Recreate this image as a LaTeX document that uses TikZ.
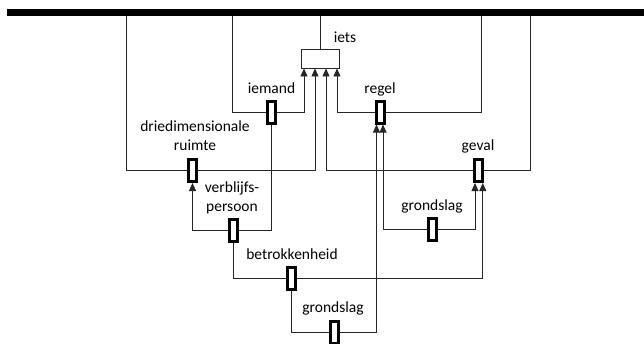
\documentclass[tikz,border=0pt]{standalone}
\usepackage{fontspec}
\setmainfont{Carlito}
\usepackage{tikz}
\usetikzlibrary{arrows.meta}
\begin{document}
\begin{tikzpicture}[x=1pt,y=-1pt,>={Triangle[length=8pt,width=7pt]},
      conn/.style={line width=0.9pt,black!85},
      rol/.style={draw,line width=3pt,fill=white,inner sep=0pt,minimum width=8pt,minimum height=22pt},
      lbl/.style={inner sep=0pt,anchor=base,align=center,font=\fontsize{15.5}{18.5}\selectfont}]
      \useasboundingbox (0,0) rectangle (644,343);
      % objecttype en rollen
      \node[draw,line width=0.9pt,black!85,fill=white,minimum width=38pt,minimum height=19pt,inner sep=0pt] (iets) at (320,58.5) {};
      \node[rol] (iemand) at (271.5,112) {};
      \node[rol] (regel) at (380,112) {};
      \node[rol] (ruimte) at (192.5,170.5) {};
      \node[rol] (geval) at (478.3,170.5) {};
      \node[rol] (verblijf) at (233.5,230.5) {};
      \node[rol] (grondA) at (432,229) {};
      \node[rol] (betrok) at (291,278.5) {};
      \node[rol] (grondB) at (334.5,332) {};
      % teksten
      \node[lbl] (tiets) at (345,42) {iets};
      \node[lbl] (tiemand) at (271.5,93) {iemand};
      \node[lbl] (tregel) at (380,93) {regel};
      \node[lbl] (truimte) at (195,150) {driedimensionale\\ruimte};
      \node[lbl] (tgeval) at (478,150) {geval};
      \node[lbl] (tverblijf) at (232,211) {verblijfs-\\persoon};
      \node[lbl] (tgrondA) at (432,210) {grondslag};
      \node[lbl] (tbetrok) at (292,259) {betrokkenheid};
      \node[lbl] (tgrondB) at (333,312) {grondslag};
      % punten aan de balk
      \coordinate (b1) at (126,12);
      \coordinate (b2) at (232,12);
      \coordinate (b3) at (481,12);
      \coordinate (b4) at (530,12);
      % lijnen
      \draw[conn] (iets.north) -- (iets.north |- b1);
      \draw[conn] (b2) |- (iemand.west);
      \draw[conn,->] (iemand.east) -| ([xshift=-16pt]iets.south);
      \draw[conn] (b1) |- (ruimte.west);
      \draw[conn,->] (ruimte.east) -| ([xshift=-5pt]iets.south);
      \draw[conn] (b4) |- (geval.east);
      \draw[conn,->] (geval.west) -| ([xshift=6pt]iets.south);
      \draw[conn] (b3) |- (regel.east);
      \draw[conn,->] (regel.west) -| ([xshift=17pt]iets.south);
      \draw[conn,->] (verblijf.west) -| (ruimte.south);
      \draw[conn] (verblijf.east) -| (iemand.south);
      \draw[conn,->] (grondA.west) -| ([xshift=3pt]regel.south);
      \draw[conn,->] (grondA.east) -| ([xshift=-3.3pt]geval.south);
      \draw[conn] (betrok.west) -| (verblijf.south);
      \draw[conn,->] (betrok.east) -| ([xshift=4.5pt]geval.south);
      \draw[conn] (grondB.west) -| (betrok.south);
      \draw[conn,->] (grondB.east) -| ([xshift=-3.5pt]regel.south);
      % balk
      \draw[line width=7pt] (7,12.5) -- (644,12.5);
\end{tikzpicture}
\end{document}
